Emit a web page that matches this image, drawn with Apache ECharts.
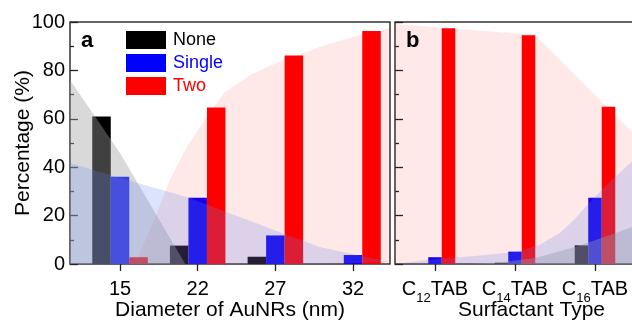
<!DOCTYPE html>
<html>
<head>
<meta charset="utf-8">
<script src="https://cdn.jsdelivr.net/npm/echarts@6/dist/echarts.min.js"></script>
<style>
html,body{margin:0;padding:0;background:#fff;}
#c{width:632px;height:321px;}
</style>
</head>
<body>
<div id="c"></div>
<script>
// ---- data ----
const catsA = ['15', '22', '27', '32'];
const catsB = ['12', '14', '16'];           // C<sub>n</sub>TAB
const seriesNames = ['None', 'Single', 'Two'];
const noneA   = [61.0, 7.6, 3.0, 0.0];
const singleA = [36.1, 27.4, 11.8, 3.7];
const twoA    = [2.8, 64.7, 86.2, 96.3];
const noneB   = [0.0, 0.5, 7.7];
const singleB = [2.8, 5.1, 27.4];
const twoB    = [97.4, 94.5, 65.0];
const yTicks  = [0, 20, 40, 60, 80, 100];
// shaded trend bands: [category position, percentage]
const trendNoneA   = [[0.356, 76], [1.0, 45.9], [1.84, 0]];
const trendSingleA = [[0.356, 41.7], [1.0, 35.5], [1.86, 27.7], [2.71, 17.4], [3.57, 7.0], [4.476, 0.8]];
const trendTwoA    = [[1.19, 0], [1.43, 17.5], [1.64, 34.7], [1.87, 49.0], [2.09, 59.5], [2.35, 71.1], [2.70, 78.5], [3.10, 84.3], [3.60, 90.0], [4.09, 94.6], [4.476, 97.5]];
const trendNoneB   = [[1.44, 0], [1.85, 0.8], [2.25, 2.5], [2.75, 7.0], [3.1, 11.0], [3.5, 15.7]];
const trendSingleB = [[0.5, 0], [1.0, 2.1], [1.5, 3.3], [2.0, 5.0], [2.3, 7.9], [2.56, 12.8], [2.76, 19.0], [2.96, 26.4], [3.21, 34.7], [3.5, 43.5]];
const trendTwoB    = [[0.5, 99.2], [2.25, 94.6], [3.5, 53.3]];

const FONT = "'Liberation Sans', Arial, Helvetica, sans-serif";
const barColors = ['#000000', '#0000ff', '#ff0000'];
const bandColors = ['rgba(160,160,160,0.4)', 'rgba(90,130,240,0.22)', 'rgba(255,0,0,0.09)'];

const chart = echarts.init(document.getElementById('c'), null, {renderer: 'canvas'});

const posA = catsA.map((_, i) => i + 1);
const posB = catsB.map((_, i) => i + 1);

function yAxisDef(gi, showLabel, name) {
  return {
    type: 'value', gridIndex: gi, min: yTicks[0], max: yTicks[yTicks.length - 1], interval: 20,
    axisLine: {show: false},
    axisTick: {show: true, inside: true, length: 8, lineStyle: {color: '#222', width: 1.3}},
    minorTick: {show: true, splitNumber: 2, length: 4, lineStyle: {color: '#222', width: 1.3}},
    splitLine: {show: false},
    axisLabel: {show: showLabel, fontSize: 20, fontFamily: FONT, color: '#000', margin: 5},
    name: name, nameLocation: 'middle', nameGap: 36, nameRotate: 90, nameMoveOverlap: false,
    nameTextStyle: {fontSize: 21, fontFamily: FONT, color: '#000'}
  };
}

const dataA = [noneA, singleA, twoA];
const dataB = [noneB, singleB, twoB];
const series = [];
seriesNames.forEach((n, k) => {
  series.push({
    name: n, type: 'bar', xAxisIndex: 0, yAxisIndex: 0, barWidth: 18.5, barGap: '0%', z: 2,
    itemStyle: {color: barColors[k]},
    data: posA.map((p, i) => [p, dataA[k][i]])
  });
});
seriesNames.forEach((n, k) => {
  series.push({
    name: n, type: 'bar', xAxisIndex: 1, yAxisIndex: 1, barWidth: 13.5, barGap: '0%', z: 2,
    itemStyle: {color: barColors[k]},
    data: posB.map((p, i) => [p, dataB[k][i]])
  });
});
function band(name, data, gi, color) {
  return {
    name: name, type: 'line', xAxisIndex: gi, yAxisIndex: gi, data: data, z: 3,
    showSymbol: false, symbol: 'none', smooth: false, silent: true,
    lineStyle: {width: 0, opacity: 0},
    areaStyle: {color: color, opacity: 1}
  };
}
series.push(band('bandTwoA', trendTwoA, 0, bandColors[2]));
series.push(band('bandNoneA', trendNoneA, 0, bandColors[0]));
series.push(band('bandSingleA', trendSingleA, 0, bandColors[1]));
series.push(band('bandTwoB', trendTwoB, 1, bandColors[2]));
series.push(band('bandNoneB', trendNoneB, 1, bandColors[0]));
series.push(band('bandSingleB', trendSingleB, 1, bandColors[1]));

const option = {
  animation: false,
  backgroundColor: '#fff',
  textStyle: {fontFamily: FONT},
  title: [
    {text: 'a', left: 81, top: 30, padding: 0, textStyle: {fontSize: 22, fontWeight: 'bold', fontFamily: FONT, color: '#000'}},
    {text: 'b', left: 406, top: 30, padding: 0, textStyle: {fontSize: 22, fontWeight: 'bold', fontFamily: FONT, color: '#000'}}
  ],
  legend: {
    left: 126, top: 31, padding: 0, orient: 'vertical', itemWidth: 40, itemHeight: 18, itemGap: 5,
    icon: 'rect', selectedMode: false,
    itemStyle: {borderWidth: 0},
    textStyle: {fontSize: 18, fontFamily: FONT, padding: [0, 0, 0, 2]},
    data: [
      {name: 'None', textStyle: {color: '#000'}},
      {name: 'Single', textStyle: {color: '#0000ff'}},
      {name: 'Two', textStyle: {color: '#ff0000'}}
    ]
  },
  grid: [
    {left: 70, top: 22, width: 320, height: 242, outerBoundsMode: 'none', containLabel: false, show: true, borderColor: '#333', borderWidth: 1.5, backgroundColor: 'transparent'},
    {left: 395, top: 22, width: 240, height: 242, outerBoundsMode: 'none', containLabel: false, show: true, borderColor: '#333', borderWidth: 1.5, backgroundColor: 'transparent'}
  ],
  xAxis: [
    {
      type: 'value', gridIndex: 0, min: 0.356, max: 4.476,
      axisLine: {show: false}, splitLine: {show: false},
      axisTick: {show: true, customValues: posA, length: 7, lineStyle: {color: '#222', width: 1.3}},
      axisLabel: {customValues: posA, formatter: v => catsA[Math.round(v) - 1], fontSize: 20, fontFamily: FONT, color: '#000', margin: 15},
      name: 'Diameter of AuNRs (nm)', nameLocation: 'middle', nameGap: 36, nameMoveOverlap: false,
      nameTextStyle: {fontSize: 21, fontFamily: FONT, color: '#000'}
    },
    {
      type: 'value', gridIndex: 1, min: 0.5, max: 3.5,
      axisLine: {show: false}, splitLine: {show: false},
      axisTick: {show: true, customValues: posB, length: 7, lineStyle: {color: '#222', width: 1.3}},
      axisLabel: {
        customValues: posB, margin: 15, color: '#000',
        formatter: v => '{m|C}{s|' + catsB[Math.round(v) - 1] + '}{m|TAB}',
        rich: {
          m: {fontSize: 20, fontFamily: FONT, color: '#000', lineHeight: 20, verticalAlign: 'top'},
          s: {fontSize: 13, fontFamily: FONT, color: '#000', lineHeight: 26, verticalAlign: 'bottom'}
        }
      },
      name: 'Surfactant Type', nameLocation: 'middle', nameGap: 36, nameMoveOverlap: false,
      nameTextStyle: {fontSize: 21, fontFamily: FONT, color: '#000', padding: [0, 0, 0, 33]}
    }
  ],
  yAxis: [yAxisDef(0, true, 'Percentage (%)'), yAxisDef(1, false, '')],
  series: series
};
chart.setOption(option);
</script>
</body>
</html>
